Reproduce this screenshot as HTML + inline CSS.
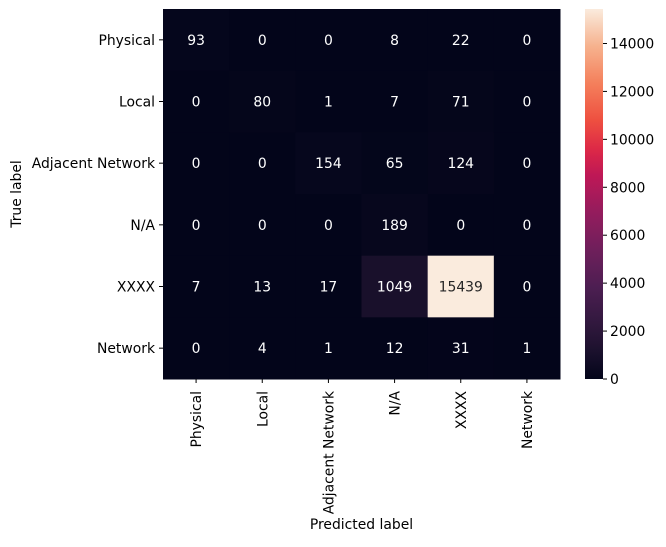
<!DOCTYPE html>
<html><head><meta charset="utf-8"><style>
html,body{margin:0;padding:0;background:#fff;}
svg text{font-family:"DejaVu Sans","Liberation Sans",sans-serif;}
</style></head><body>
<svg id="chart" width="666" height="542" xmlns="http://www.w3.org/2000/svg"></svg>
<script>
const categories = ["Physical","Local","Adjacent Network","N/A","XXXX","Network"];
const matrix = [
  [93,0,0,8,22,0],
  [0,80,1,7,71,0],
  [0,0,154,65,124,0],
  [0,0,0,189,0,0],
  [7,13,17,1049,15439,0],
  [0,4,1,12,31,1]
];
const colorbarTicks = [0,2000,4000,6000,8000,10000,12000,14000];

const svg = document.getElementById('chart');
const NS = "http://www.w3.org/2000/svg";
const X0=163, X1=560, Y0=9, Y1=379;
const n = categories.length;
const cw=(X1-X0)/n, ch=(Y1-Y0)/n;
let vmax=0; matrix.forEach(r=>r.forEach(v=>{if(v>vmax)vmax=v;}));
const vmin=0;
const FS='13.9';
const stops=[[0,[3,5,26]],[0.07,[26,16,44]],[0.15,[49,24,62]],[0.25,[77,30,82]],[0.35,[111,31,91]],[0.45,[148,28,93]],[0.55,[190,24,86]],[0.62,[221,40,70]],[0.7,[238,80,64]],[0.8,[244,128,92]],[0.9,[246,178,142]],[1,[250,235,221]]];
function cmap(t){t=Math.max(0,Math.min(1,t));for(let i=1;i<stops.length;i++){if(t<=stops[i][0]){const a=stops[i-1],b=stops[i];const f=(t-a[0])/(b[0]-a[0]);const c=a[1].map((v,k)=>Math.round(v+(b[1][k]-v)*f));return {c:`rgb(${c[0]},${c[1]},${c[2]})`,l:(0.299*c[0]+0.587*c[1]+0.114*c[2])};}}return {c:"rgb(250,235,221)",l:240};}
function xs(i){return X0+i*cw;}
function ys(i){return Y0+i*ch;}
function el(tag,attrs,txt){const e=document.createElementNS(NS,tag);for(const k in attrs)e.setAttribute(k,attrs[k]);if(txt!==undefined)e.textContent=txt;svg.appendChild(e);return e;}

for(let r=0;r<n;r++){for(let c=0;c<n;c++){
  const v=matrix[r][c];const col=cmap((v-vmin)/(vmax-vmin));
  const rect=el('rect',{x:xs(c),y:ys(r),width:cw+0.5,height:ch+0.5,fill:col.c});
  
  
  const t=el('text',{x:xs(c)+cw/2,y:ys(r)+ch/2+5,'text-anchor':'middle','font-size':FS,fill:col.l>128?'#262626':'#ffffff'},String(v));
  
  
}}
for(let r=0;r<n;r++){
  const y=ys(r)+ch/2;
  el('line',{x1:X0-4,x2:X0,y1:y,y2:y,stroke:'#000','stroke-width':1});
  const t=el('text',{x:X0-8,y:y+5,'text-anchor':'end','font-size':FS,fill:'#000'},categories[r]);
  
  
}
for(let c=0;c<n;c++){
  const x=xs(c)+cw/2;
  el('line',{x1:x,x2:x,y1:Y1,y2:Y1+4,stroke:'#000','stroke-width':1});
  const t=el('text',{x:0,y:0,'text-anchor':'end','font-size':FS,fill:'#000',transform:`translate(${x+5},${Y1+12}) rotate(-90)`},categories[c]);
  
  
}
const xt=el('text',{x:(X0+X1)/2,y:529,'text-anchor':'middle','font-size':FS,fill:'#000'},'Predicted label');


const yt=el('text',{x:0,y:0,'text-anchor':'middle','font-size':FS,fill:'#000',transform:`translate(21,${(Y0+Y1)/2}) rotate(-90)`},'True label');



const CX0=585, CX1=603;
const defs=el('defs',{});
const grad=document.createElementNS(NS,'linearGradient');
grad.setAttribute('id','cg');grad.setAttribute('x1','0');grad.setAttribute('y1','1');grad.setAttribute('x2','0');grad.setAttribute('y2','0');
for(let i=0;i<=40;i++){const s=document.createElementNS(NS,'stop');s.setAttribute('offset',i/40);s.setAttribute('stop-color',cmap(i/40).c);grad.appendChild(s);}
defs.appendChild(grad);
const cb=el('rect',{x:CX0,y:Y0,width:CX1-CX0,height:Y1-Y0,fill:'url(#cg)'});


function cy(v){return Y1-(v-vmin)/(vmax-vmin)*(Y1-Y0);}
colorbarTicks.forEach(v=>{
  const y=cy(v);
  el('line',{x1:CX1,x2:CX1+4,y1:y,y2:y,stroke:'#000','stroke-width':1});
  const t=el('text',{x:CX1+7,y:y+5,'font-size':FS,fill:'#000'},String(v));
  
  
});
</script>
</body></html>
